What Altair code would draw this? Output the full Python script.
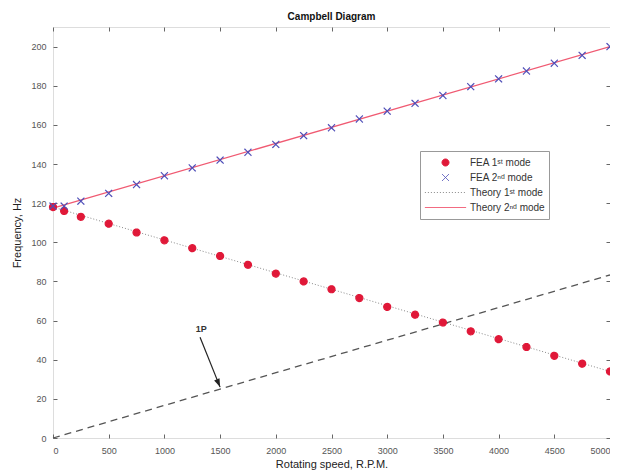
import altair as alt
import pandas as pd

# ---- data ----
rpm = [0, 100, 250, 500, 750, 1000, 1250, 1500, 1750, 2000, 2250, 2500,
       2750, 3000, 3250, 3500, 3750, 4000, 4250, 4500, 4750, 5000]
fea1 = [118, 116, 113, 109.5, 105, 101, 97, 93, 88.5, 84, 80, 76,
        71.5, 67, 63, 59, 54.5, 50.5, 46.5, 42, 38, 34]
fea2 = [118.5, 118.5, 121, 125, 129.5, 134, 138, 142, 146, 150, 154.5, 158.5,
        163, 167, 171, 175, 179.5, 183.5, 187.5, 191.5, 195.5, 200]

theory_rpm = [0, 5000]
theory1 = [118, 34]
theory2 = [117.5, 200]
onep_rpm = [0, 5000]
onep_hz = [0, 83.3]

arrow_x = [1320]
arrow_y = [51.5]
arrow_x2 = [1500]
arrow_y2 = [26]
label_x = [1330]
label_y = [53]
label_text = ["1P"]

x_ticks = [0, 500, 1000, 1500, 2000, 2500, 3000, 3500, 4000, 4500, 5000]
y_ticks = [0, 20, 40, 60, 80, 100, 120, 140, 160, 180, 200]

S1 = "FEA 1ˢᵗ mode"
S2 = "FEA 2ⁿᵈ mode"
S3 = "Theory 1ˢᵗ mode"
S4 = "Theory 2ⁿᵈ mode"
series_names = [S1, S2, S3, S4]

W, H = 557, 411
FONT = "Liberation Sans"

fea_df = pd.DataFrame({
    "rpm": rpm + rpm,
    "hz": fea1 + fea2,
    "series": [S1] * len(rpm) + [S2] * len(rpm),
})
th1_df = pd.DataFrame({"rpm": theory_rpm, "hz": theory1})
th2_df = pd.DataFrame({"rpm": theory_rpm, "hz": theory2})
onep_df = pd.DataFrame({"rpm": onep_rpm, "hz": onep_hz})
arrow_df = pd.DataFrame({"x": arrow_x, "y": arrow_y, "x2": arrow_x2, "y2": arrow_y2})
label_df = pd.DataFrame({"x": label_x, "y": label_y, "t": label_text})

xs = alt.Scale(domain=[0, 5000], nice=False, zero=False)
ys = alt.Scale(domain=[0, 210], nice=False, zero=False)

RED_DOT = "#e01838"
BLUE_X = "#4f4fb8"
GRAY_DOT = "#8a8a8a"
RED_LINE = "#f05a72"
SYM = 1700  # symbol scale: custom paths are drawn small inside it
DOT_PATH = "M-0.17,0A0.17,0.17,0,1,0,0.17,0A0.17,0.17,0,1,0,-0.17,0Z"
X_PATH = "M-0.17,-0.17L0.17,0.17M-0.17,0.17L0.17,-0.17"

# main axes with labels
main_x = alt.Axis(values=x_ticks, format="d", title="Rotating speed, R.P.M.", tickSize=0,
                  labelPadding=8, domain=False, grid=False, labelFontSize=9,
                  labelColor="#555", titleFontSize=11, titleFontWeight="normal",
                  titleColor="#222", titlePadding=3, labelFont=FONT, titleFont=FONT,
                  labelFlush=True)
main_y = alt.Axis(values=y_ticks, title="Frequency, Hz", tickSize=0,
                  labelPadding=7, domain=False, grid=False, labelFontSize=9,
                  labelColor="#555", titleFontSize=11, titleFontWeight="normal",
                  titleColor="#222", titlePadding=8, labelFont=FONT, titleFont=FONT)
# inner ticks, bottom and left edges
in_x1 = alt.Axis(orient="top", offset=-H, values=x_ticks, labels=False, title=None,
                 tickSize=4, tickColor="#666", domain=False, grid=False)
in_y1 = alt.Axis(orient="right", offset=-W, values=y_ticks, labels=False, title=None,
                 tickSize=4, tickColor="#666", domain=False, grid=False)
# inner ticks, top and right edges
in_x2 = alt.Axis(orient="bottom", offset=-H, values=x_ticks, labels=False, title=None,
                 tickSize=4, tickColor="#666", domain=False, grid=False)
in_y2 = alt.Axis(orient="left", offset=-W, values=y_ticks, labels=False, title=None,
                 tickSize=4, tickColor="#666", domain=False, grid=False)

th2 = alt.Chart(th2_df).mark_line(color=RED_LINE, strokeWidth=1.3).encode(
    x=alt.X("rpm:Q", scale=xs, axis=main_x),
    y=alt.Y("hz:Q", scale=ys, axis=main_y),
)
th1 = alt.Chart(th1_df).mark_line(color=GRAY_DOT, strokeWidth=1, strokeDash=[1, 2]).encode(
    x=alt.X("rpm:Q", scale=xs, axis=in_x1),
    y=alt.Y("hz:Q", scale=ys, axis=in_y1),
)
onep = alt.Chart(onep_df).mark_line(color="#555", strokeWidth=1.3, strokeDash=[7, 5]).encode(
    x=alt.X("rpm:Q", scale=xs, axis=in_x2),
    y=alt.Y("hz:Q", scale=ys, axis=in_y2),
)

legend = alt.Legend(orient="none", legendX=367, legendY=124, title=None,
                    strokeColor="#999", fillColor="white", padding=4,
                    labelFontSize=10, labelFont=FONT, labelColor="#333",
                    rowPadding=0, clipHeight=15, symbolStrokeWidth=1, labelOffset=3,
                    symbolSize=SYM)

pts = alt.Chart(fea_df).mark_point(filled=False, strokeWidth=1.2, size=SYM, opacity=1).encode(
    x=alt.X("rpm:Q", scale=xs, axis=None),
    y=alt.Y("hz:Q", scale=ys, axis=None),
    color=alt.Color("series:N", scale=alt.Scale(domain=series_names,
                    range=[RED_DOT, BLUE_X, GRAY_DOT, RED_LINE]), legend=legend),
    fill=alt.Fill("series:N", scale=alt.Scale(domain=series_names,
                  range=[RED_DOT, "transparent", "transparent", "transparent"]), legend=legend),
    shape=alt.Shape("series:N", scale=alt.Scale(domain=series_names,
                    range=[DOT_PATH, X_PATH, "stroke", "stroke"]), legend=legend),
    strokeDash=alt.StrokeDash("series:N", scale=alt.Scale(domain=series_names,
                              range=[[1, 0], [1, 0], [1, 2], [1, 0]]), legend=legend),
)

arrow_line = alt.Chart(arrow_df).mark_rule(color="#222", strokeWidth=1.2).encode(
    x=alt.X("x:Q", scale=xs, axis=None), y=alt.Y("y:Q", scale=ys, axis=None),
    x2="x2:Q", y2="y2:Q",
)
arrow_head = alt.Chart(arrow_df).mark_point(
    shape="M0,0L-0.35,1L0.35,1Z", filled=True, color="#222", size=280, angle=157,
    opacity=1).encode(
    x=alt.X("x2:Q", scale=xs, axis=None), y=alt.Y("y2:Q", scale=ys, axis=None),
)
label = alt.Chart(label_df).mark_text(fontSize=9, font=FONT, fontWeight="bold",
                                      color="#333", baseline="bottom").encode(
    x=alt.X("x:Q", scale=xs, axis=None), y=alt.Y("y:Q", scale=ys, axis=None),
    text="t:N",
)

chart = alt.layer(th2, th1, onep, pts, arrow_line, arrow_head, label).resolve_axis(
    x="independent", y="independent"
).properties(
    width=W, height=H,
    title=alt.TitleParams("Campbell Diagram", fontSize=10, fontWeight="bold",
                          font=FONT, color="#111", offset=5, anchor="middle"),
    autosize=alt.AutoSizeParams(type="none"),
    padding={"left": 45, "top": 19, "right": 0, "bottom": 36},
).configure_view(stroke="#555", strokeWidth=1).configure(background="white")

chart.save("out.html", embed_options={"renderer": "svg", "actions": False})
